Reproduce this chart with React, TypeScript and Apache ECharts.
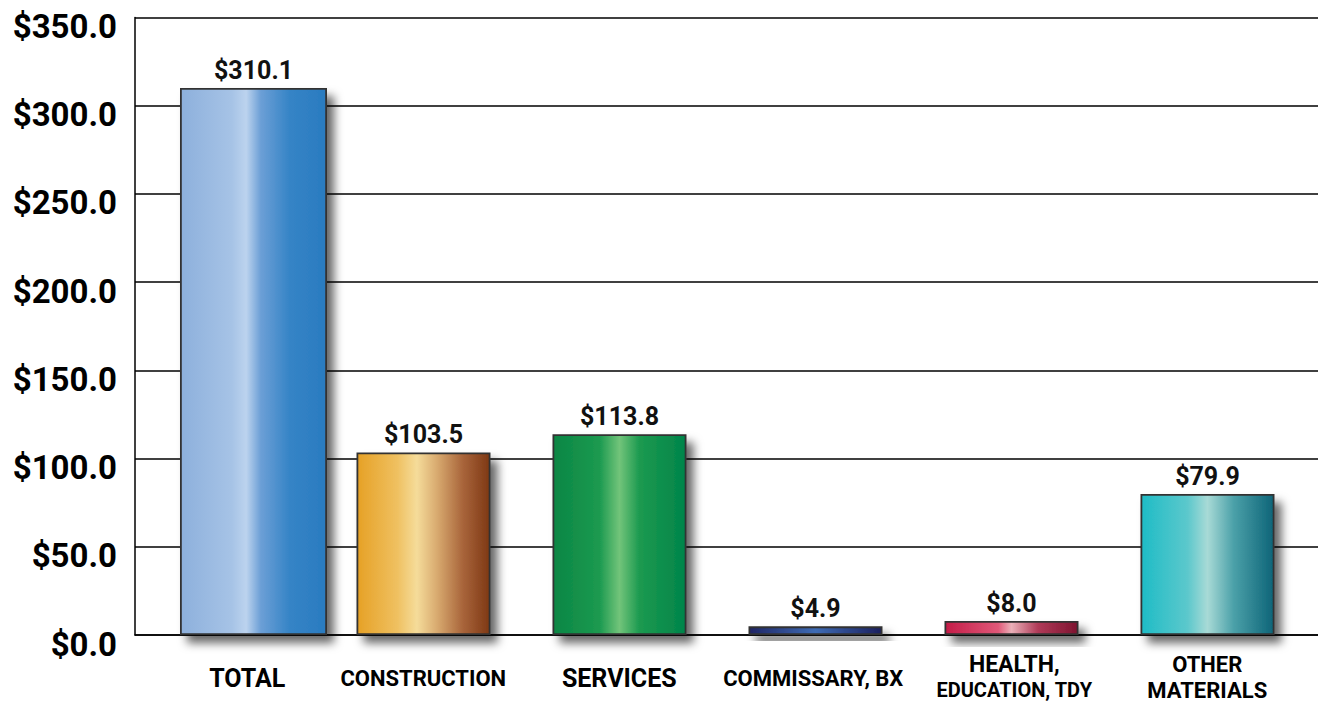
import React, { useEffect, useRef } from "react";
import * as echarts from "echarts";

const categories = ["TOTAL", "CONSTRUCTION", "SERVICES", "COMMISSARY, BX", "HEALTH,\nEDUCATION, TDY", "OTHER\nMATERIALS"];
const values = [310.1, 103.5, 113.8, 4.9, 8.0, 79.9];
const yTicks = [0, 50, 100, 150, 200, 250, 300, 350];

const gradients: [number, string][][] = [
  [[0, "#8db0dc"], [0.35, "#a6c3e6"], [0.45, "#bcd3ee"], [0.55, "#6c9fd6"], [0.75, "#3584c6"], [1, "#2a7bc0"]],
  [[0, "#e6a126"], [0.3, "#efc060"], [0.45, "#f5dc9a"], [0.6, "#d9ab70"], [0.8, "#a8643a"], [1, "#7e3814"]],
  [[0, "#0a8644"], [0.35, "#1c9a50"], [0.5, "#72c47a"], [0.65, "#1c9a50"], [1, "#00844a"]],
  [[0, "#1f2565"], [0.5, "#3e6cb5"], [1, "#1c1f5e"]],
  [[0, "#c41c48"], [0.4, "#e05878"], [0.5, "#eab0b8"], [0.7, "#b03a58"], [1, "#7e1430"]],
  [[0, "#1ebcc6"], [0.35, "#5cc8cc"], [0.5, "#a8dad6"], [0.7, "#4aa0a8"], [1, "#0e6478"]],
];

const FONT = "Roboto, sans-serif";

function makeItem(i: number) {
  return {
    value: values[i],
    itemStyle: {
      color: new echarts.graphic.LinearGradient(
        0, 0, 1, 0,
        gradients[i].map(([offset, color]) => ({ offset, color }))
      ),
      borderColor: "#333333",
      borderWidth: 1.8,
      shadowColor: "rgba(0,0,0,0.6)",
      shadowBlur: 10,
      shadowOffsetX: 7,
      shadowOffsetY: 8,
    },
  };
}

const richKeys = ["a", "b", "c", "d", "e", "f"];

export default function App() {
  const ref = useRef<HTMLDivElement>(null);
  useEffect(() => {
    if (!ref.current) return;
    const chart = echarts.init(ref.current, null, { renderer: "svg" });
    const totalData = values.map((_, i) => (i === 0 ? makeItem(i) : "-"));
    const otherData = values.map((_, i) => (i === 0 ? "-" : makeItem(i)));
    const valueLabel = {
      show: true,
      position: "top",
      distance: 5,
      fontFamily: FONT,
      fontWeight: "bold",
      fontSize: 25,
      color: "#111",
      formatter: (p: any) => "$" + Number(p.value).toFixed(1),
    };
    const option: any = {
      animation: false,
      backgroundColor: "#ffffff",
      grid: [
        { left: 135, right: 0, top: 17.5, bottom: 70, containLabel: false },
        { left: 139.25, right: 2.75, top: 17.5, bottom: 70, containLabel: false },
      ],
      xAxis: [
        {
          gridIndex: 0,
          type: "value",
          min: 0,
          max: 1,
          axisLine: { show: true, lineStyle: { color: "#000", width: 1.5 } },
          axisTick: { show: false },
          axisLabel: { show: false },
          splitLine: { show: false },
        },
        {
          gridIndex: 1,
          type: "category",
          data: categories,
          axisLine: { show: false },
          axisTick: { show: false },
          axisLabel: {
            margin: 16,
            interval: 0,
            color: "#000",
            fontFamily: FONT,
            fontWeight: "bold",
            formatter: (v: string) => {
              const idx = categories.indexOf(v);
              const lines = v.split("\n");
              if (lines.length === 1) return "{" + richKeys[idx] + "|" + v + "}";
              return "{" + richKeys[idx] + "1|" + lines[0] + "}\n{" + richKeys[idx] + "2|" + lines[1] + "}";
            },
            rich: {
              a: { fontFamily: FONT, fontWeight: "bold", fontSize: 25, color: "#000", padding: [15, 0, 0, 20] },
              b: { fontFamily: FONT, fontWeight: "bold", fontSize: 22, color: "#000", padding: [16, 20, 0, 0] },
              c: { fontFamily: FONT, fontWeight: "bold", fontSize: 25, color: "#000", padding: [15, 20, 0, 0] },
              d: { fontFamily: FONT, fontWeight: "bold", fontSize: 22, color: "#000", padding: [16, 24, 0, 0] },
              e1: { fontFamily: FONT, fontWeight: "bold", fontSize: 23, lineHeight: 26, color: "#000", padding: [0, 14, 0, 0] },
              e2: { fontFamily: FONT, fontWeight: "bold", fontSize: 20, lineHeight: 26, color: "#000", padding: [0, 14, 0, 0] },
              f1: { fontFamily: FONT, fontWeight: "bold", fontSize: 22, lineHeight: 26, color: "#000", padding: [0, 20, 0, 0] },
              f2: { fontFamily: FONT, fontWeight: "bold", fontSize: 22, lineHeight: 26, color: "#000", padding: [0, 20, 0, 0] },
            },
          },
          splitLine: { show: false },
        },
      ],
      yAxis: [
        {
          gridIndex: 0,
          type: "value",
          min: yTicks[0],
          max: yTicks[yTicks.length - 1],
          interval: 50,
          axisLine: { show: true, lineStyle: { color: "#000", width: 1.5 } },
          axisTick: { show: false },
          splitLine: { show: true, lineStyle: { color: "#000", width: 1.5 } },
          axisLabel: {
            margin: 18,
            color: "#000",
            fontFamily: FONT,
            fontWeight: "bold",
            fontSize: 33,
            formatter: (v: number) => "{v|$" + v.toFixed(1) + "}",
            rich: {
              v: { fontFamily: FONT, fontWeight: "bold", fontSize: 33, color: "#000", padding: [18, 0, 0, 0] },
            },
          },
        },
        {
          gridIndex: 1,
          type: "value",
          min: yTicks[0],
          max: yTicks[yTicks.length - 1],
          interval: 50,
          show: false,
          splitLine: { show: false },
        },
      ],
      series: [
        {
          type: "bar",
          xAxisIndex: 1,
          yAxisIndex: 1,
          data: totalData,
          barWidth: 147,
          barGap: "-113.27%",
          label: valueLabel,
        },
        {
          type: "bar",
          xAxisIndex: 1,
          yAxisIndex: 1,
          data: otherData,
          barWidth: 134,
          barGap: "-113.27%",
          label: valueLabel,
        },
      ],
    };
    chart.setOption(option);
    return () => chart.dispose();
  }, []);
  return (
    <div
      ref={ref}
      style={{ position: "fixed", left: 0, top: 0, width: 1318, height: 705, background: "#fff" }}
    />
  );
}
